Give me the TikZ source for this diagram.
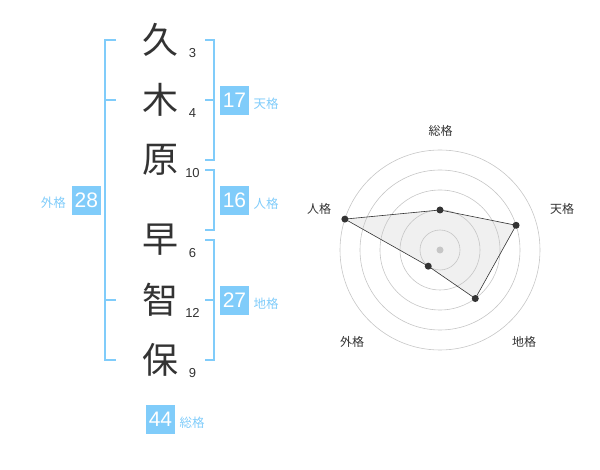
\documentclass[tikz,border=0pt]{standalone}
\usepackage{fontspec}
\setmainfont{Liberation Sans}
\newfontfamily\jpfont{Noto Sans CJK JP}
\definecolor{kakublue}{RGB}{128,204,250}
\definecolor{inkgray}{RGB}{51,51,51}
\begin{document}
\begin{tikzpicture}[x=1pt,y=-1pt,
  kanji/.style={font=\jpfont\fontsize{36}{36}\selectfont, text=inkgray, inner sep=0pt},
  strokes/.style={font=\fontsize{13}{13}\selectfont, text=inkgray, inner sep=0pt},
  kakubox/.style={fill=kakublue, text=white, minimum size=29pt, inner sep=0pt, font=\fontsize{21}{21}\selectfont},
  kakuname/.style={text=kakublue, font=\jpfont\fontsize{12.5}{12.5}\selectfont, inner sep=0pt},
  bracket/.style={draw=kakublue, line width=2pt},
  ring/.style={draw=gray!45, line width=0.6pt},
  axislabel/.style={text=inkgray, font=\jpfont\fontsize{12}{12}\selectfont, inner sep=0pt},
  vdot/.style={circle, fill=inkgray, inner sep=0pt, minimum size=7pt}]
\useasboundingbox (0,0) rectangle (600,470);
\node[kanji] (k1) at (160,40) {久};
\node[kanji] (k2) at (160,100) {木};
\node[kanji] (k3) at (160,160) {原};
\node[kanji] (k4) at (160,240) {早};
\node[kanji] (k5) at (160,300) {智};
\node[kanji] (k6) at (160,360) {保};
\node[strokes] (s1) at (192.5,52.7) {3};
\node[strokes] (s2) at (192.5,113.3) {4};
\node[strokes] (s3) at (192.5,173.3) {10};
\node[strokes] (s4) at (192.5,252.7) {6};
\node[strokes] (s5) at (192.5,312.7) {12};
\node[strokes] (s6) at (192.5,373.3) {9};
\draw[bracket] (116,40) -- (105,40) -- (105,360) -- (116,360);
\draw[bracket] (105,100) -- (116,100);
\draw[bracket] (105,300) -- (116,300);
\draw[bracket] (205,40) -- (214,40) -- (214,160) -- (205,160);
\draw[bracket] (205,100) -- (214,100);
\draw[bracket] (205,170) -- (214,170) -- (214,230) -- (205,230);
\draw[bracket] (205,240) -- (214,240) -- (214,360) -- (205,360);
\draw[bracket] (205,300) -- (214,300);
\node[kakubox] (gai) at (86.3,200.3) {28};
\node[kakuname] (gainame) at (53.3,202.7) {外格};
\node[kakubox] (ten) at (234.5,100.5) {17};
\node[kakuname] (tenname) at (266,104) {天格};
\node[kakubox] (jin) at (234.5,200.3) {16};
\node[kakuname] (jinname) at (266,203.5) {人格};
\node[kakubox] (chi) at (234.5,300.5) {27};
\node[kakuname] (chiname) at (266,304) {地格};
\node[kakubox] (sou) at (160.5,419) {44};
\node[kakuname] (souname) at (192,422.3) {総格};
\coordinate (c) at (440,250);
\path (c) ++(-90:40) coordinate (vsou);
\path (c) ++(-18:80) coordinate (vten);
\path (c) ++(54:60) coordinate (vchi);
\path (c) ++(126:20) coordinate (vgai);
\path (c) ++(-162:100) coordinate (vjin);
\fill[gray!12] (vsou) -- (vten) -- (vchi) -- (vgai) -- (vjin) -- cycle;
\foreach \r in {20,40,60,80,100}
  \draw[ring] (c) circle (\r pt);
\fill[gray!45] (c) circle (3.5pt);
\draw[inkgray, line width=0.6pt] (vsou) -- (vten) -- (vchi) -- (vgai) -- (vjin) -- cycle;
\foreach \v in {vsou,vten,vchi,vgai,vjin}
  \node[vdot] at (\v) {};
\node[axislabel] (lsou) at (440.7,130.7) {総格};
\node[axislabel] (lten) at (562,209) {天格};
\node[axislabel] (lchi) at (524,342) {地格};
\node[axislabel] (lgai) at (352,342) {外格};
\node[axislabel] (ljin) at (319,209) {人格};
\end{tikzpicture}
\end{document}
